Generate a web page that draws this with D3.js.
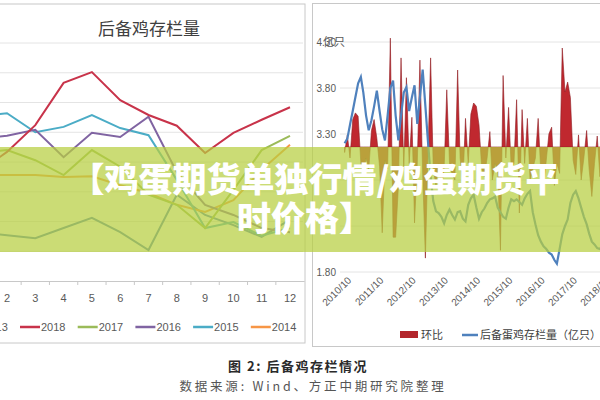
<!DOCTYPE html>
<html>
<head>
<meta charset="utf-8">
<script src="https://cdn.jsdelivr.net/npm/d3@7"></script>
<style>
body{margin:0;background:#fff;}
svg{display:block;font-family:"Noto Sans CJK SC","Noto Sans",sans-serif;}
</style>
</head>
<body>
<svg id="chart" width="600" height="400"></svg>
<script>
//left chart data: 后备鸡存栏量 by month, one array per year
var months=[1,2,3,4,5,6,7,8,9,10,11,12];
var monthLabels=["1","2","3","4","5","6","7","8","9","10","11","12"];
var s2013=[2.82,2.77,2.72,2.89,3.06,2.82,2.52,3.45,3.11,2.94,2.74,3.03];
var s2018=[3.83,4.17,4.62,5.33,5.51,5.04,4.79,4.61,4.15,4.49,4.71,4.92];
var s2017=[4.15,4.20,4.03,3.78,4.20,3.92,3.45,3.28,2.89,3.53,4.20,4.44];
var s2016=[4.40,4.44,4.54,4.08,4.49,4.42,4.76,3.83,3.28,3.11,2.89,2.82];
var s2015=[4.76,4.82,4.50,4.59,4.79,4.57,4.45,3.70,2.89,2.99,2.76,2.89];
var s2014=[3.78,3.78,3.78,3.75,3.76,3.61,3.48,3.28,3.16,3.36,3.87,4.29];
var seriesNames=["2013","2018","2017","2016","2015","2014"];
var seriesColors=["#4f81bd","#c8334a","#9bbb59","#8064a2","#4bacc6","#f79646"];

//right chart data: monthly from 2010/08
var startMonth=new Date(2010,7,1);
var stock=[3.20,3.25,3.40,3.55,3.70,3.85,3.92,3.75,3.50,3.34,3.45,3.60,
3.77,3.55,3.35,3.23,3.50,3.80,3.88,3.50,3.23,3.50,3.75,3.81,
3.55,3.70,3.83,3.41,3.70,4.00,3.60,3.23,2.84,2.57,2.46,2.44,
2.40,2.33,2.42,2.48,2.42,2.37,2.45,2.46,2.38,2.35,2.53,2.60,
2.64,2.50,2.38,2.45,2.49,2.55,2.59,2.60,2.62,2.50,2.45,2.40,
2.38,2.50,2.59,2.57,2.59,2.56,2.53,2.60,2.65,2.68,2.45,2.32,
2.20,2.13,2.08,2.05,2.01,1.99,1.93,1.89,2.05,2.21,2.30,2.37,
2.55,2.64,2.68,2.60,2.50,2.40,2.32,2.22,2.13,2.10,2.06,2.05,
2.10,2.15];
var change=[-0.5,1.1,-1.0,2.5,3.1,2.8,-1.5,-2.5,-1.0,-2.1,1.5,2.5,
0.8,-1.8,-7.8,-1.2,-2.0,9.9,-8.2,-8.2,-3.6,8.1,-2.0,6.3,
-1.5,2.7,-6.9,-1.5,7.9,-2.5,-10.1,-1.0,8.1,-2.0,-3.5,-1.5,
-4.0,-2.0,5.2,-1.5,-2.5,-3.0,7.0,-1.0,-3.5,2.6,-1.5,3.0,
4.0,3.7,2.0,-2.0,-2.7,-1.0,1.4,-3.0,-1.5,-2.3,-9.4,6.5,
-1.0,3.6,-2.0,-1.5,4.3,-6.0,3.4,-1.5,2.6,-3.0,-2.0,-1.0,
2.6,-2.5,-4.0,-1.2,1.2,1.8,-3.5,-1.5,-2.4,9.0,5.0,5.9,
4.5,-1.2,-2.5,1.1,-3.0,-1.0,1.5,-2.0,-4.5,-1.5,1.0,-2.7,
-1.5,0.5];
var dateTicks=["2010/10","2011/10","2012/10","2013/10","2014/10","2015/10","2016/10","2017/10","2018/10"];
var yGridRight=[1.80,2.30,2.80,3.30,3.80,4.30];
//2.80 and 2.30 sit under the banner and do not show
var yLabelsRight=[1.80,3.30,3.80,4.30];

var svg=d3.select("#chart");

//panel borders------------------------------------------
svg.append("rect").attr("x",-2).attr("y",4).attr("width",307).attr("height",339)
	.style("fill","none").style("stroke","#c8c8c8");
svg.append("rect").attr("x",312.5).attr("y",3.5).attr("width",292).attr("height",343)
	.style("fill","none").style("stroke","#c8c8c8");

//Left chart----------------------------------------------
var left=svg.append("g");
var xBand=d3.scaleBand().domain(months).range([-35.45,304.15]).padding(0);
var yLeft=d3.scaleLinear().domain([2,6]).range([281,43]);

left.append("text").attr("x",149).attr("y",35).attr("text-anchor","middle")
	.style("font-size","17px").style("fill","#404040").text("后备鸡存栏量");

left.selectAll("line.grid").data(d3.range(2.5,6.01,0.5)).enter().append("line")
	.attr("x1",0).attr("x2",303)
	.attr("y1",function(d){return yLeft(d);}).attr("y2",function(d){return yLeft(d);})
	.style("stroke","#e4e4e4").style("stroke-width",1);

var line=d3.line()
	.x(function(d,i){return xBand(months[i])+xBand.bandwidth()/2;})
	.y(function(d){return yLeft(d);});
var allSeries=[s2013,s2018,s2017,s2016,s2015,s2014];
//draw oldest first so 2018 lands on top
[0,5,4,3,2,1].forEach(function(k){
	left.append("path").attr("d",line(allSeries[k]))
		.style("fill","none").style("stroke",seriesColors[k]).style("stroke-width",2);
});

var xAxis=d3.axisBottom(xBand).tickSize(0).tickFormat(function(d,i){return monthLabels[i];});
var gx=left.append("g").attr("transform","translate(0,281)").call(xAxis);
gx.select(".domain").style("stroke","#c8c8c8");
gx.selectAll("text").attr("dy","1.6em").style("font-size","11px").style("fill","#595959")
	.style("font-family","Liberation Sans, sans-serif");
left.selectAll("line.tk").data(months).enter().append("line")
	.attr("x1",function(d){return xBand(d);}).attr("x2",function(d){return xBand(d);})
	.attr("y1",281).attr("y2",285).style("stroke","#c8c8c8");

var leg=left.selectAll("g.leg").data(seriesNames).enter().append("g")
	.attr("transform",function(d,i){return "translate("+(-37.7+i*57.7)+",327)";});
leg.append("line").attr("x1",0).attr("x2",20).attr("y1",0).attr("y2",0)
	.style("stroke",function(d,i){return seriesColors[i];}).style("stroke-width",2.5);
leg.append("text").attr("x",21).attr("y",4).text(function(d){return d;})
	.style("font-size","11px").style("fill","#595959").style("font-family","Liberation Sans, sans-serif");

//Right chart---------------------------------------------
var right=svg.append("g");
var parse=d3.timeParse("%Y/%m");
var xTime=d3.scaleTime().domain([parse("2010/10"),parse("2018/10")]).range([350,608]);
var yStock=d3.scaleLinear().domain([1.8,4.3]).range([272,42]);
var yChange=d3.scaleLinear().domain([-10,10]).range([257,37]);
var dateOf=function(i){return d3.timeMonth.offset(startMonth,i);};

svg.append("clipPath").attr("id","rclip").append("rect")
	.attr("x",340).attr("y",0).attr("width",260).attr("height",345);

right.selectAll("line.grid").data(yGridRight).enter().append("line")
	.attr("x1",340).attr("x2",600)
	.attr("y1",function(d){return yStock(d);}).attr("y2",function(d){return yStock(d);})
	.style("stroke","#e4e4e4");

right.selectAll("text.yl").data(yLabelsRight).enter().append("text")
	.attr("x",336).attr("y",function(d){return yStock(d)+4;}).attr("text-anchor","end")
	.text(function(d){return d3.format(".2f")(d);})
	.style("font-size","10px").style("fill","#595959").style("font-family","Liberation Sans, sans-serif");
right.append("text").attr("x",323).attr("y",46).text("亿只")
	.style("font-size","11px").style("fill","#595959");

var plot=right.append("g").attr("clip-path","url(#rclip)");
var area=d3.area()
	.x(function(d,i){return xTime(dateOf(i));})
	.y0(yChange(0))
	.y1(function(d){return yChange(d);});
plot.append("path").attr("d",area(change))
	.style("fill","#c0282f").style("stroke","#8e1c22").style("stroke-width",0.6);

var stockLine=d3.line()
	.x(function(d,i){return xTime(dateOf(i));})
	.y(function(d){return yStock(d);});
plot.append("path").attr("d",stockLine(stock))
	.style("fill","none").style("stroke","#4f81bd").style("stroke-width",2.2);

right.selectAll("text.xl").data(dateTicks).enter().append("text")
	.attr("transform",function(d){return "translate("+(xTime(parse(d))+2)+",281) rotate(-45)";})
	.attr("text-anchor","end").text(function(d){return d;})
	.style("font-size","10px").style("fill","#595959").style("font-family","Liberation Sans, sans-serif");

right.append("rect").attr("x",400).attr("y",331).attr("width",18).attr("height",7).style("fill","#b3262c");
right.append("text").attr("x",421).attr("y",339).text("环比")
	.style("font-size","11px").style("fill","#404040");
right.append("line").attr("x1",462).attr("x2",478).attr("y1",335).attr("y2",335)
	.style("stroke","#4f81bd").style("stroke-width",2.5);
right.append("text").attr("x",480).attr("y",339).text("后备蛋鸡存栏量（亿只）")
	.style("font-size","11px").style("fill","#404040");

//banner overlay------------------------------------------
svg.append("rect").attr("x",0).attr("y",147).attr("width",600).attr("height",105)
	.style("fill","rgb(183,207,64)").style("opacity",0.72);
var banner=["【鸡蛋期货单独行情/鸡蛋期货平","时价格】"];
svg.selectAll("text.ban").data(banner).enter().append("text")
	.attr("x",function(d,i){return i==0?315:305;})
	.attr("y",function(d,i){return 192+i*39;})
	.attr("text-anchor","middle").text(function(d){return d;})
	.style("font-size","34px").style("font-weight","900").style("fill","#fff");

//caption-------------------------------------------------
svg.append("text").attr("x",298).attr("y",371).attr("text-anchor","middle")
	.text("图 2: 后备鸡存栏情况").style("font-size","13px").style("font-weight","700")
	.style("letter-spacing","1.5px").style("fill","#2a2a2a");
svg.append("text").attr("x",313).attr("y",391).attr("text-anchor","middle")
	.text("数据来源: Wind、方正中期研究院整理").style("font-size","12.5px")
	.style("letter-spacing","2.8px").style("fill","#555");
</script>
</body>
</html>
